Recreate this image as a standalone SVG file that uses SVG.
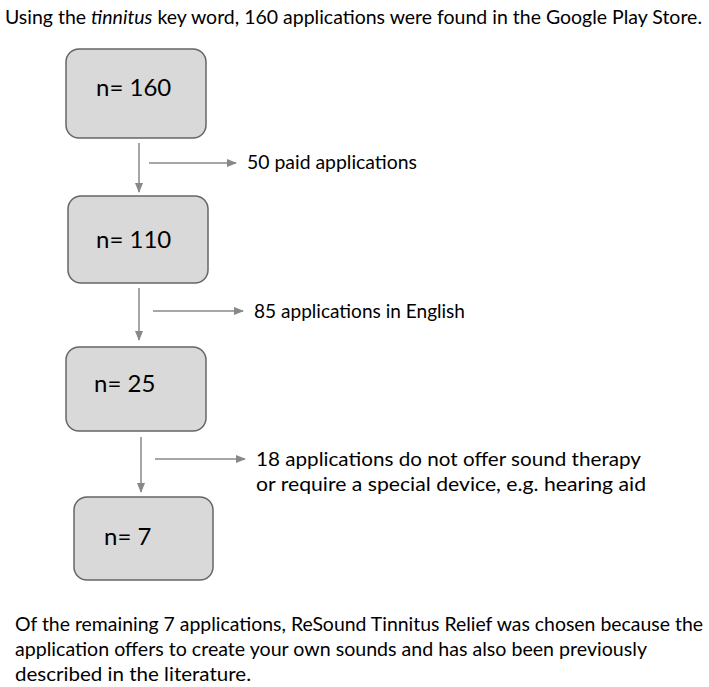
<svg xmlns="http://www.w3.org/2000/svg" width="709" height="687" viewBox="0 0 709 687">
<style>
text{font-family:Lato,"Open Sans","Liberation Sans",sans-serif;fill:#000}
.t{font-size:19px}
.n{font-size:24px}
.box{fill:#d9d9d9;stroke:#666;stroke-width:1.5}
.c{stroke:#888;stroke-width:1.5;fill:none;marker-end:url(#a)}
</style>
<defs><marker id="a" markerWidth="10" markerHeight="8" refX="9" refY="4" orient="auto" markerUnits="userSpaceOnUse"><path d="M0,0L10,4L0,8z" fill="#888"/></marker></defs>
<rect width="709" height="687" fill="#fff"/>
<text class="t" x="5" y="24" textLength="697" lengthAdjust="spacingAndGlyphs">Using the <tspan font-style="italic">tinnitus</tspan> key word, 160 applications were found in the Google Play Store.</text>
<g id="n1"><rect class="box" x="66" y="49" width="140" height="89" rx="13"/><text class="n" x="96" y="96">n= 160</text></g>
<g id="n2"><rect class="box" x="68" y="196" width="140" height="87" rx="13"/><text class="n" x="96" y="248">n= 110</text></g>
<g id="n3"><rect class="box" x="66" y="347" width="140" height="84" rx="13"/><text class="n" x="94" y="392">n= 25</text></g>
<g id="n4"><rect class="box" x="74" y="497" width="139" height="83" rx="13"/><text class="n" x="104" y="545">n= 7</text></g>
<g id="connectors">
<path class="c" d="M139,143V192"/>
<path class="c" d="M149,163H236"/>
<path class="c" d="M139,288V340"/>
<path class="c" d="M153,311H243"/>
<path class="c" d="M141,437V492"/>
<path class="c" d="M155,459H245"/>
</g>
<g id="labels">
<text class="t" x="247" y="169" textLength="170" lengthAdjust="spacingAndGlyphs">50 paid applications</text>
<text class="t" x="254" y="318" textLength="211" lengthAdjust="spacingAndGlyphs">85 applications in English</text>
<text class="t" x="256" y="466" textLength="385" lengthAdjust="spacingAndGlyphs">18 applications do not offer sound therapy</text>
<text class="t" x="256" y="491" textLength="390" lengthAdjust="spacingAndGlyphs">or require a special device, e.g. hearing aid</text>
<text class="t" x="15" y="631" textLength="688" lengthAdjust="spacingAndGlyphs">Of the remaining 7 applications, ReSound Tinnitus Relief was chosen because the</text>
<text class="t" x="15" y="656" textLength="632" lengthAdjust="spacingAndGlyphs">application offers to create your own sounds and has also been previously</text>
<text class="t" x="15" y="681" textLength="236" lengthAdjust="spacingAndGlyphs">described in the literature.</text>
</g>
</svg>
